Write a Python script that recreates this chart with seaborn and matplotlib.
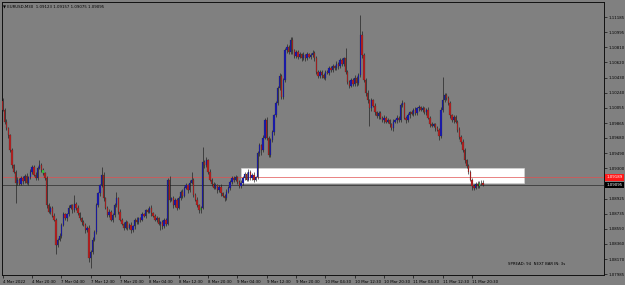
import numpy as np
import pandas as pd
import matplotlib
matplotlib.use("Agg")
import matplotlib.pyplot as plt
import matplotlib.transforms as mtransforms
from matplotlib.patches import Rectangle
import seaborn as sns

# ---------------- data ----------------
symbol = "EURUSD,M30"
first_open = 1.1014
close = [
    1.1003, 1.0988, 1.0980, 1.0971, 1.0953, 1.0934, 1.0926, 1.0912, 1.0916, 1.0911,
    1.0918, 1.0914, 1.0921, 1.0912, 1.0919, 1.0926, 1.0932, 1.0922, 1.0918, 1.0931,
    1.0934, 1.0928, 1.0924, 1.0918, 1.0884, 1.0876, 1.0881, 1.0871, 1.0866, 1.0835,
    1.0841, 1.0846, 1.0860, 1.0873, 1.0868, 1.0873, 1.0881, 1.0884, 1.0878, 1.0886,
    1.0881, 1.0874, 1.0868, 1.0863, 1.0860, 1.0853, 1.0856, 1.0818, 1.0826, 1.0841,
    1.0851, 1.0884, 1.0899, 1.0909, 1.0922, 1.0893, 1.0881, 1.0872, 1.0876, 1.0866,
    1.0872, 1.0884, 1.0893, 1.0876, 1.0866, 1.0861, 1.0856, 1.0863, 1.0856, 1.0860,
    1.0853, 1.0858, 1.0866, 1.0863, 1.0868, 1.0866, 1.0873, 1.0871, 1.0878, 1.0876,
    1.0881, 1.0874, 1.0871, 1.0866, 1.0868, 1.0861, 1.0863, 1.0858, 1.0866, 1.0861,
    1.0916, 1.0891, 1.0893, 1.0884, 1.0891, 1.0881, 1.0893, 1.0901, 1.0896, 1.0906,
    1.0909, 1.0903, 1.0912, 1.0916, 1.0897, 1.0891, 1.0884, 1.0878, 1.0881, 1.0938,
    1.0934, 1.0940, 1.0926, 1.0916, 1.0911, 1.0906, 1.0909, 1.0903, 1.0907, 1.0899,
    1.0896, 1.0893, 1.0901, 1.0906, 1.0913, 1.0918, 1.0916, 1.0919, 1.0913, 1.0908,
    1.0912, 1.0918, 1.0923, 1.0916, 1.0926, 1.0918, 1.0922, 1.0916, 1.0919, 1.0949,
    1.0959, 1.0953, 1.0968, 1.0990, 1.0968, 1.0947, 1.0965, 1.0975, 1.0996, 1.1011,
    1.1030, 1.1045, 1.1019, 1.1040, 1.1077, 1.1081, 1.1075, 1.1090, 1.1077, 1.1070,
    1.1075, 1.1069, 1.1072, 1.1067, 1.1071, 1.1067, 1.1072, 1.1069, 1.1071, 1.1074,
    1.1067, 1.1050, 1.1045, 1.1050, 1.1046, 1.1043, 1.1050, 1.1049, 1.1055, 1.1052,
    1.1057, 1.1055, 1.1060, 1.1057, 1.1065, 1.1060, 1.1067, 1.1050, 1.1038, 1.1033,
    1.1040, 1.1035, 1.1043, 1.1036, 1.1046, 1.1096, 1.1071, 1.1040, 1.1024, 1.1015,
    1.1005, 1.1015, 1.1008, 1.1000, 1.0995, 1.0999, 1.0993, 1.0990, 1.0993, 1.0988,
    1.0990, 1.0985, 1.0980, 1.0988, 1.0990, 1.0993, 1.0990, 1.1009, 1.1011, 1.0993,
    1.0990, 1.0996, 1.1000, 1.0998, 1.1003, 1.0999, 1.1005, 1.1006, 1.1003, 1.1005,
    1.1000, 1.1003, 1.0993, 1.0985, 1.0983, 1.0985, 1.0980, 1.0978, 1.0970, 1.1003,
    1.1015, 1.1021, 1.1018, 1.1011, 1.0996, 1.0990, 1.0994, 1.0988, 1.0978, 1.0969,
    1.0963, 1.0953, 1.0940, 1.0933, 1.0926, 1.0916, 1.0908, 1.0906, 1.0911, 1.0908,
    1.0912, 1.09123, 1.09095,
]
# upper / lower wick length of each bar, in pips
wick_up = [
    4, 2, 3, 2, 2, 3, 2, 2, 3, 2,
    3, 2, 2, 3, 2, 3, 2, 2, 3, 2,
    6, 3, 2, 2, 2, 3, 2, 2, 3, 2,
    2, 3, 2, 3, 2, 2, 3, 2, 2, 11,
    2, 3, 2, 2, 3, 2, 2, 3, 2, 3,
    2, 3, 2, 2, 10, 3, 2, 2, 3, 2,
    2, 3, 8, 2, 3, 2, 2, 3, 2, 2,
    3, 2, 2, 3, 2, 2, 3, 2, 2, 3,
    2, 3, 2, 2, 3, 2, 2, 3, 2, 2,
    2, 4, 2, 3, 2, 2, 3, 2, 3, 2,
    3, 2, 3, 9, 2, 2, 3, 2, 2, 19,
    3, 4, 2, 3, 2, 2, 3, 2, 2, 3,
    2, 2, 3, 2, 3, 2, 2, 3, 2, 2,
    3, 2, 3, 2, 3, 2, 2, 3, 2, 3,
    3, 2, 3, 3, 4, 2, 3, 3, 2, 3,
    3, 4, 3, 3, 3, 4, 3, 4, 3, 2,
    3, 2, 3, 2, 4, 2, 3, 2, 3, 4,
    2, 3, 2, 3, 2, 3, 2, 3, 2, 3,
    3, 2, 4, 2, 3, 3, 2, 13, 3, 2,
    3, 2, 3, 2, 3, 25, 5, 3, 2, 3,
    2, 3, 2, 3, 2, 3, 2, 2, 3, 2,
    3, 2, 2, 3, 2, 3, 2, 3, 4, 2,
    2, 3, 2, 3, 2, 3, 2, 3, 2, 3,
    2, 2, 3, 2, 3, 2, 2, 3, 2, 3,
    29, 3, 3, 2, 3, 2, 3, 2, 2, 3,
    2, 3, 2, 2, 3, 2, 2, 3, 2, 3,
    2, 3, 3.4,
]
wick_dn = [
    2, 3, 2, 3, 2, 3, 2, 25, 3, 2,
    2, 3, 2, 2, 3, 2, 3, 2, 2, 3,
    2, 3, 2, 2, 3, 2, 3, 2, 2, 11,
    3, 2, 3, 2, 2, 3, 2, 2, 3, 2,
    3, 2, 2, 3, 2, 3, 2, 5, 12, 3,
    2, 3, 2, 3, 2, 3, 2, 2, 3, 2,
    3, 2, 2, 3, 2, 2, 3, 2, 3, 2,
    4, 2, 3, 2, 2, 3, 2, 2, 3, 2,
    2, 3, 2, 2, 3, 2, 8, 3, 2, 3,
    2, 3, 2, 3, 2, 3, 2, 2, 3, 2,
    2, 3, 2, 2, 3, 2, 2, 4, 3, 2,
    3, 2, 3, 2, 3, 2, 2, 3, 2, 3,
    2, 3, 2, 2, 3, 2, 3, 2, 2, 3,
    2, 3, 3, 2, 2, 3, 2, 3, 2, 2,
    3, 6, 3, 2, 3, 3, 3, 2, 3, 2,
    2, 3, 3, 2, 3, 3, 2, 3, 4, 2,
    2, 3, 2, 3, 2, 3, 2, 2, 3, 2,
    3, 2, 3, 2, 3, 2, 3, 2, 3, 2,
    2, 3, 2, 3, 2, 2, 3, 2, 3, 3,
    2, 3, 2, 3, 2, 2, 3, 3, 4, 3,
    22, 3, 2, 3, 2, 3, 2, 2, 3, 2,
    2, 3, 2, 3, 2, 3, 2, 2, 3, 2,
    3, 2, 3, 2, 3, 2, 2, 3, 2, 3,
    2, 3, 2, 3, 2, 2, 3, 2, 5, 2,
    3, 2, 3, 2, 3, 2, 3, 2, 3, 2,
    3, 2, 3, 2, 3, 2, 5, 3, 2, 3,
    2, 3, 2,
]
green_bars = [22, 108, 260]
spread_points = 94
next_bar_secs = 3
ytick_values = [1.11185, 1.10995, 1.10810, 1.10620, 1.10430, 1.10240, 1.10055,
                1.09865, 1.09680, 1.09490, 1.09300, 1.08925, 1.08735, 1.08550,
                1.08360, 1.08170, 1.07985]
xtick_bars = [0, 16, 32, 48, 64, 80, 96, 112, 128, 144, 160, 176, 192, 208, 224, 240, 256]
xtick_labels = ["4 Mar 2022", "4 Mar 20:30", "7 Mar 04:30", "7 Mar 12:30", "7 Mar 20:30",
                "8 Mar 04:30", "8 Mar 12:30", "8 Mar 20:30", "9 Mar 04:30", "9 Mar 12:30",
                "9 Mar 20:30", "10 Mar 04:30", "10 Mar 12:30", "10 Mar 20:30",
                "11 Mar 04:30", "11 Mar 12:30", "11 Mar 20:30"]
zone_bars = (129.8, 284.6)
zone_prices = (1.0912, 1.0930)

# ---------------- build table ----------------
pip = 0.0001
c = np.array(close)
o = np.concatenate([[first_open], c[:-1]])
hi = np.maximum(o, c) + np.array(wick_up) * pip
lo = np.minimum(o, c) - np.array(wick_dn) * pip
df = pd.DataFrame({"bar": np.arange(len(c)), "open": o, "high": hi, "low": lo, "close": c})
bid = df["close"].iloc[-1]
ask = bid + spread_points * 0.00001

# ---------------- style ----------------
sns.set_theme(style="white", rc={"axes.facecolor": "#808080", "figure.facecolor": "#808080"})
plt.rcParams["font.family"] = ["DejaVu Sans"]

BG = "#808080"
BULL = "#1a1ab4"
BEAR = "#b82020"
GREEN = "#3cd23c"
WICK = "#1a1a1a"
FS = 2.8

fig = plt.figure(figsize=(6.25, 2.85), dpi=100)
fig.patch.set_facecolor(BG)
ax = fig.add_axes([1.7 / 625, 10 / 285, 602.3 / 625, 273.5 / 285])
ax.set_facecolor(BG)

# support/resistance box
ax.add_patch(Rectangle((zone_bars[0], zone_prices[0]), zone_bars[1] - zone_bars[0],
                       zone_prices[1] - zone_prices[0], facecolor="white",
                       edgecolor="#d8d8d8", linewidth=0.4, zorder=1))

# ask / bid lines
ax.axhline(ask, color="#e05050", linewidth=0.5, zorder=2)
ax.axhline(bid, color="#3a3a3a", linewidth=0.6, zorder=2)

# candles
colors = np.where(df["close"] >= df["open"], BULL, BEAR).astype(object)
for g in green_bars:
    colors[g] = GREEN
ax.vlines(df["bar"], df["low"], df["high"], color=WICK, linewidth=0.45, zorder=3)
body = (df["close"] - df["open"]).to_numpy()
body = np.where(np.abs(body) < 0.00003, 0.00003, body)
ax.bar(df["bar"], body, bottom=df["open"], width=0.72, color=list(colors),
       edgecolor=WICK, linewidth=0.12, zorder=4)

# axes
ax.set_xlim(-0.6, 328.0)
ax.set_ylim(1.079729, 1.11378)
for s in ax.spines.values():
    s.set_visible(True)
    s.set_color("#111111")
    s.set_linewidth(0.7)

ax.yaxis.tick_right()
ax.set_yticks(ytick_values)
ax.set_yticklabels([f"{v:.5f}" for v in ytick_values])
ax.set_xticks(xtick_bars)
ax.set_xticklabels(xtick_labels, ha="left")
ax.tick_params(axis="both", which="major", length=2, width=0.5, color="#111111",
               labelsize=FS, labelcolor="black", direction="out")
ax.tick_params(axis="y", pad=1.2, right=True, left=False)
ax.tick_params(axis="x", pad=1.5, bottom=True)
ax.grid(False)

# price labels at right
tr = mtransforms.blended_transform_factory(ax.transAxes, ax.transData)
ax.text(1.004, ask, f"{ask:.5f}", transform=tr, fontsize=FS, color="white",
        va="center", ha="left", zorder=6, clip_on=False,
        bbox=dict(facecolor="#ff1a1a", edgecolor="none", pad=0.9))
ax.text(1.004, bid, f"{bid:.5f}", transform=tr, fontsize=FS, color="white",
        va="center", ha="left", zorder=6, clip_on=False,
        bbox=dict(facecolor="black", edgecolor="none", pad=0.9))

# header and status text
last = df.iloc[-1]
fig.text(3 / 625, 1 - 6 / 285,
         f"\u25BC {symbol}  {last['open']:.5f} {last['high']:.5f} {last['low']:.5f} {last['close']:.5f}",
         fontsize=FS, color="black", va="center", ha="left")
ax.text(0.8406, 0.039, f"SPREAD: {spread_points}  NEXT BAR IN: {next_bar_secs}s",
        transform=ax.transAxes, fontsize=FS, color="black", va="center", ha="left")

fig.savefig("out.png", dpi=100, facecolor=BG)
